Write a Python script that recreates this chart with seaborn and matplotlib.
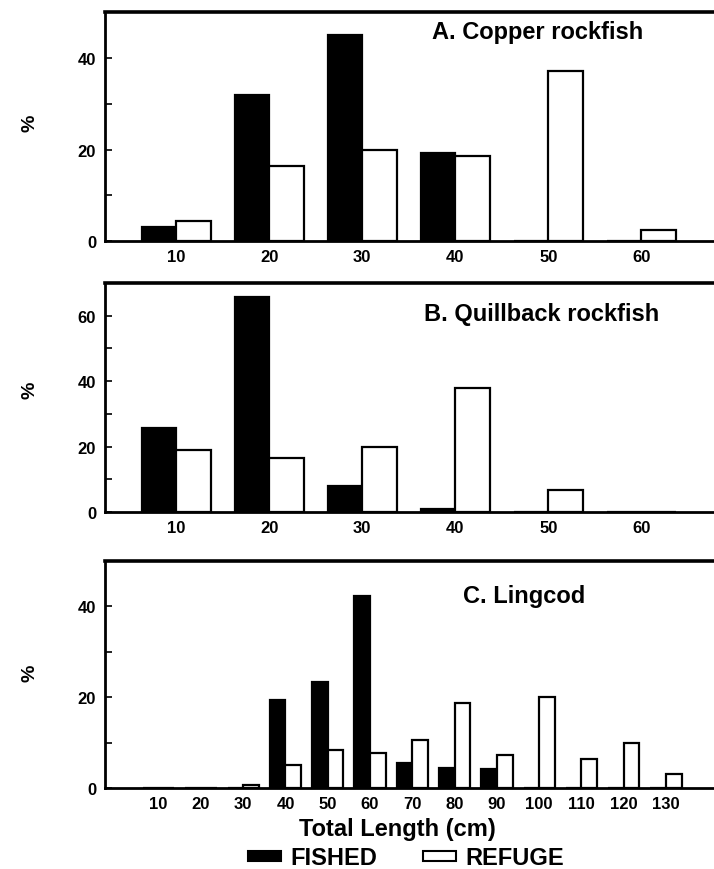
import numpy as np
import pandas as pd
import matplotlib
matplotlib.use("Agg")
import matplotlib.pyplot as plt
from matplotlib.patches import Patch
import seaborn as sns

sns.set_style("white")
plt.rcParams['font.family'] = ['Liberation Sans', 'DejaVu Sans']
plt.rcParams['font.weight'] = 'bold'
plt.rcParams['text.color'] = 'black'
plt.rcParams['xtick.color'] = 'black'
plt.rcParams['ytick.color'] = 'black'
plt.rcParams['axes.labelcolor'] = 'black'

# ---- data ----
lengths_ab = [10, 20, 30, 40, 50, 60]
copper_fished = [3.1, 31.9, 45.1, 19.3, 0.0, 0.0]
copper_refuge = [4.3, 16.3, 19.9, 18.6, 37.2, 2.4]

quill_fished = [25.6, 65.6, 7.9, 1.0, 0.0, 0.0]
quill_refuge = [19.1, 16.6, 19.8, 37.9, 6.8, 0.0]

lengths_c = [10, 20, 30, 40, 50, 60, 70, 80, 90, 100, 110, 120, 130]
ling_fished = [0.0, 0.0, 0.0, 19.4, 23.4, 42.4, 5.5, 4.4, 4.2, 0.0, 0.0, 0.0, 0.0]
ling_refuge = [0.0, 0.0, 0.7, 5.0, 8.4, 7.7, 10.5, 18.8, 7.2, 20.1, 6.4, 9.9, 3.0]

titles = ["A. Copper rockfish", "B. Quillback rockfish", "C. Lingcod"]
groups = ["FISHED", "REFUGE"]


def long_df(x, f, r):
    return pd.DataFrame({
        "length": list(x) + list(x),
        "pct": list(f) + list(r),
        "group": [groups[0]] * len(x) + [groups[1]] * len(x),
    })


W, H = 714, 870
fig = plt.figure(figsize=(W / 100, H / 100), dpi=100)

left = 104.5 / W
right = 1.005
panels = [
    dict(df=long_df(lengths_ab, copper_fished, copper_refuge), top=13.3, zero=242,
         ylim=50, major=[0, 20, 40], minor=[10, 30], xlim=(2.3, 68.2), xt=lengths_ab,
         title_xy=(538, 33), ylab_y=123),
    dict(df=long_df(lengths_ab, quill_fished, quill_refuge), top=284, zero=513,
         ylim=70, major=[0, 20, 40, 60], minor=[10, 30, 50], xlim=(2.3, 68.2), xt=lengths_ab,
         title_xy=(542, 315), ylab_y=390),
    dict(df=long_df(lengths_c, ling_fished, ling_refuge), top=562, zero=789,
         ylim=50, major=[0, 20, 40], minor=[10, 30], xlim=(-2.8, 142.2), xt=lengths_c,
         title_xy=(524, 597), ylab_y=673),
]

pal = {"FISHED": "black", "REFUGE": "white"}

for p, title in zip(panels, titles):
    b = 1 - p["zero"] / H
    h = (p["zero"] - p["top"]) / H
    ax = fig.add_axes([left, b, right - left, h])
    sns.barplot(data=p["df"], x="length", y="pct", hue="group", native_scale=True,
                palette=pal, edgecolor="black", linewidth=1.6, width=0.74,
                errorbar=None, legend=False, ax=ax, saturation=1)
    ax.set_xlim(*p["xlim"])
    ax.set_ylim(0, p["ylim"])
    ax.set_xticks(p["xt"])
    ax.set_xticklabels([str(v) for v in p["xt"]], fontsize=12, fontweight='bold')
    ax.set_yticks(p["major"])
    ax.set_yticklabels([str(v) for v in p["major"]], fontsize=12, fontweight='bold')
    ax.set_yticks(p["minor"], minor=True)
    ax.tick_params(axis='x', length=0, pad=6)
    ax.tick_params(axis='y', which='both', direction='in', length=5, width=1.2,
                   left=True, pad=6, colors='black')
    ax.set_xlabel("")
    ax.set_ylabel("")
    for s in ["left", "bottom"]:
        ax.spines[s].set_linewidth(2.0)
        ax.spines[s].set_color("black")
    ax.spines["top"].set_linewidth(2.6)
    ax.spines["top"].set_color("black")
    ax.spines["right"].set_visible(False)
    ax.grid(False)
    fig.text(p["title_xy"][0] / W, 1 - p["title_xy"][1] / H, title,
             ha='center', va='center', fontsize=17, fontweight='bold')
    fig.text(30 / W, 1 - p["ylab_y"] / H, "%", rotation=90, ha='center', va='center',
             fontsize=14, fontweight='bold')

fig.text(397 / W, 1 - 830 / H, "Total Length (cm)", ha='center', va='center',
         fontsize=17, fontweight='bold')

handles = [Patch(facecolor='black', edgecolor='black', linewidth=1.5),
           Patch(facecolor='white', edgecolor='black', linewidth=1.5)]
fig.legend(handles, groups, loc='center', bbox_to_anchor=(406 / W, 1 - 859 / H),
           ncol=2, frameon=False, handlelength=1.4, handleheight=0.33,
           handletextpad=0.4, columnspacing=1.9,
           prop={'size': 17, 'weight': 'bold'}, borderpad=0)

fig.savefig("out.png", dpi=100)
